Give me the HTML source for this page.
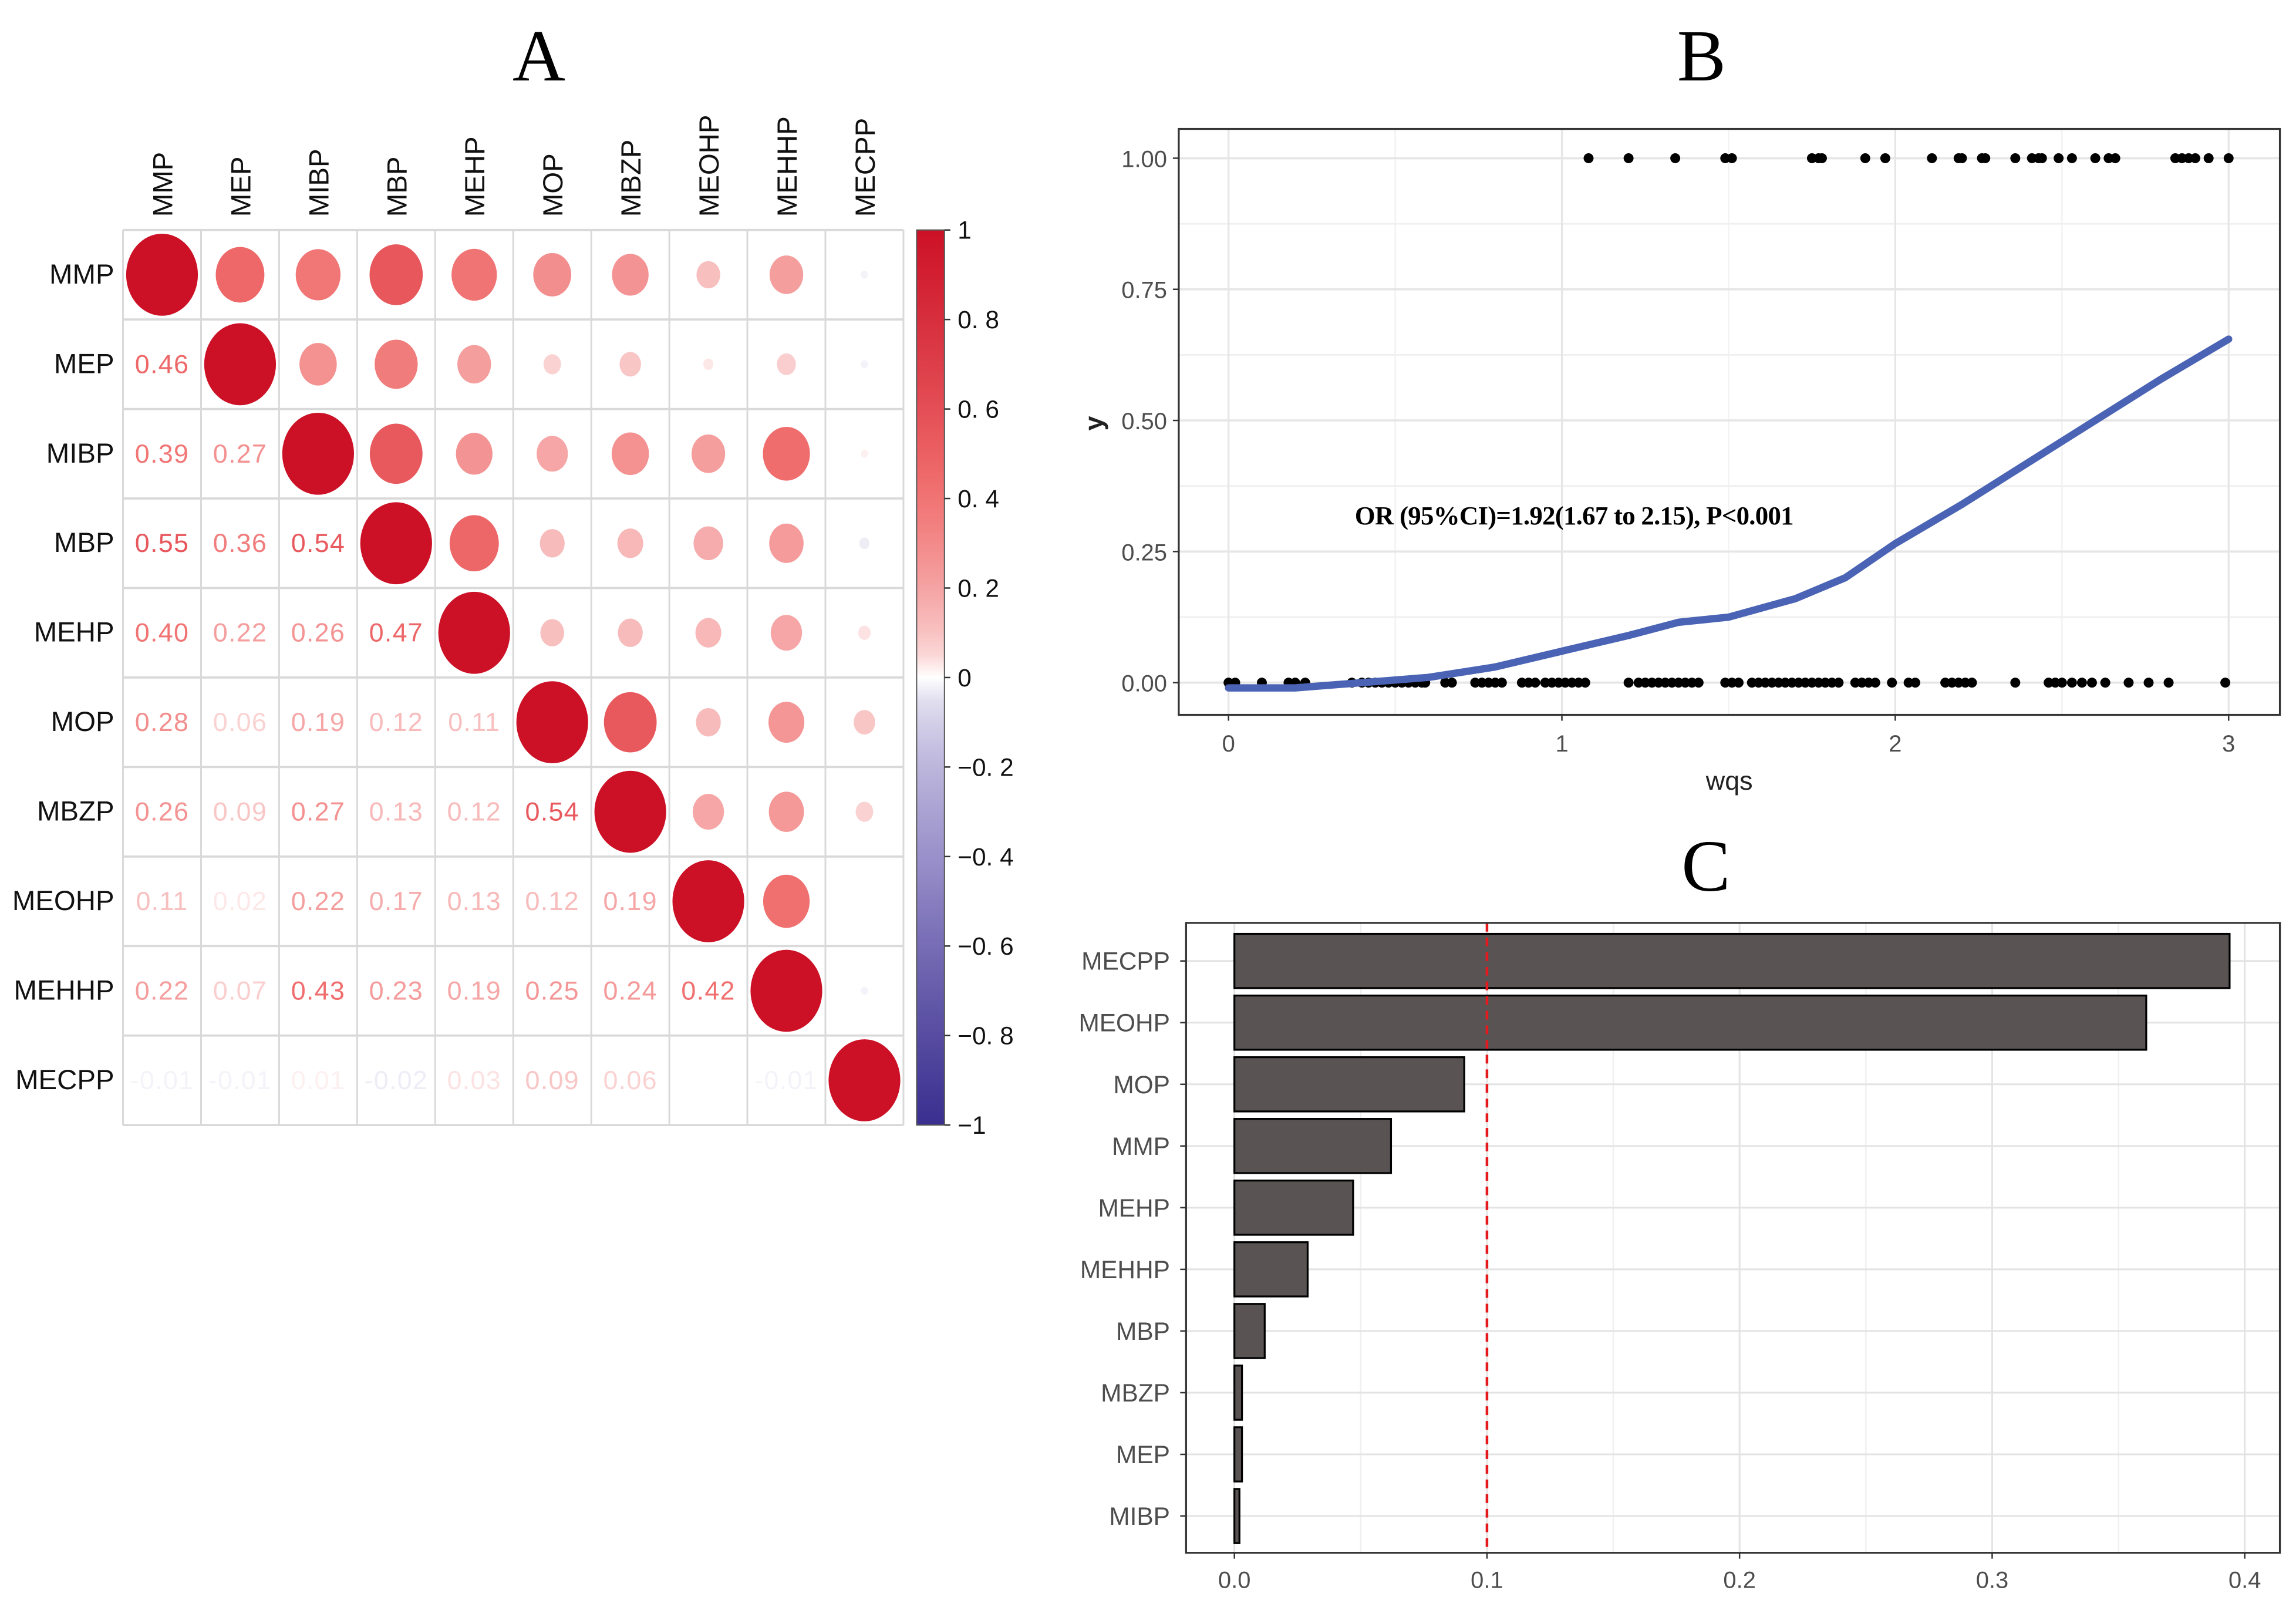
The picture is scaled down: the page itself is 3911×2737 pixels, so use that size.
<!DOCTYPE html>
<html><head><meta charset="utf-8"><style>
html,body{margin:0;padding:0;background:#fff;}
svg{display:block;}
</style></head><body>
<svg id="chart" xmlns="http://www.w3.org/2000/svg" width="3911" height="2737" viewBox="0 0 1568 1097" preserveAspectRatio="none" font-family="Liberation Sans, sans-serif">
<rect width="1568" height="1097" fill="#fff"/>
<text x="368" y="55" font-family="Liberation Serif, serif" font-size="50" text-anchor="middle">A</text>
<text x="1162" y="55" font-family="Liberation Serif, serif" font-size="50" text-anchor="middle">B</text>
<text x="1165" y="608" font-family="Liberation Serif, serif" font-size="50" text-anchor="middle">C</text>
<g id="gA"></g>
<g id="gB"></g>
<g id="gC"></g>
</svg>
<script>
const vars = ["MMP","MEP","MIBP","MBP","MEHP","MOP","MBZP","MEOHP","MEHHP","MECPP"];
const corrLower = [
 [],
 [0.46],
 [0.39,0.27],
 [0.55,0.36,0.54],
 [0.40,0.22,0.26,0.47],
 [0.28,0.06,0.19,0.12,0.11],
 [0.26,0.09,0.27,0.13,0.12,0.54],
 [0.11,0.02,0.22,0.17,0.13,0.12,0.19],
 [0.22,0.07,0.43,0.23,0.19,0.25,0.24,0.42],
 [-0.01,-0.01,0.01,-0.02,0.03,0.09,0.06,0.00,-0.01]
];
const cbTicks = [1,0.8,0.6,0.4,0.2,0,-0.2,-0.4,-0.6,-0.8,-1];
const cbLabels = ["1","0. 8","0. 6","0. 4","0. 2","0","−0. 2","−0. 4","−0. 6","−0. 8","−1"];

const yesX = [1.08,1.2,1.34,1.49,1.51,1.75,1.77,1.78,1.91,1.97,2.11,2.19,2.2,2.26,2.27,2.36,2.41,2.43,2.44,2.49,2.53,2.6,2.64,2.66,2.84,2.86,2.88,2.9,2.94,3.0];
const noX = [0.0,0.02,0.1,0.18,0.2,0.23,0.37,0.4,0.42,0.44,0.46,0.48,0.5,0.52,0.54,0.56,0.58,0.59,0.65,0.67,0.74,0.76,0.78,0.8,0.82,0.88,0.9,0.92,0.95,0.97,0.99,1.01,1.03,1.05,1.07,1.2,1.23,1.25,1.27,1.29,1.31,1.33,1.35,1.37,1.39,1.41,1.49,1.51,1.53,1.57,1.59,1.61,1.63,1.65,1.67,1.69,1.71,1.73,1.75,1.77,1.79,1.81,1.83,1.88,1.9,1.92,1.94,1.99,2.04,2.06,2.15,2.17,2.19,2.21,2.23,2.36,2.46,2.48,2.5,2.53,2.56,2.59,2.63,2.7,2.76,2.82,2.99];
const curveX = [0,0.2,0.4,0.6,0.8,1.0,1.2,1.35,1.5,1.7,1.85,2.0,2.2,2.4,2.6,2.8,3.0];
const curveY = [-0.01,-0.01,0.0,0.01,0.03,0.06,0.09,0.115,0.125,0.16,0.2,0.265,0.34,0.42,0.5,0.58,0.655];
const bXTicks = [0,1,2,3];
const bYTicks = [0,0.25,0.5,0.75,1];
const bYLabels = ["0.00","0.25","0.50","0.75","1.00"];

const weightNames = ["MECPP","MEOHP","MOP","MMP","MEHP","MEHHP","MBP","MBZP","MEP","MIBP"];
const weightVals = [0.394,0.361,0.091,0.062,0.047,0.029,0.012,0.003,0.003,0.002];
const cXTicks = [0,0.1,0.2,0.3,0.4];
const cXLabels = ["0.0","0.1","0.2","0.3","0.4"];
const threshold = 0.1;

const NS="http://www.w3.org/2000/svg";
function mk(parent,tag,attrs,text){const e=document.createElementNS(NS,tag);for(const k in attrs)e.setAttribute(k,attrs[k]);if(text!==undefined)e.textContent=text;parent.appendChild(e);return e;}
function corrColor(r){
  const t=Math.pow(Math.min(1,Math.abs(r)),0.6);
  const end = r>=0?[204,17,38]:[58,47,143];
  const mid = r>=0?[240,110,110]:[150,140,200];
  let c;
  if(t<0.6){const u=t/0.6;c=[0,1,2].map(i=>Math.round(255+(mid[i]-255)*u));}
  else{const u=(t-0.6)/0.4;c=[0,1,2].map(i=>Math.round(mid[i]+(end[i]-mid[i])*u));}
  return `rgb(${c[0]},${c[1]},${c[2]})`;
}
function corr(i,j){ if(i===j) return 1; return i>j?corrLower[i][j]:corrLower[j][i]; }

// Panel A
(function(){
  const g=document.getElementById('gA');
  const x0=84,x1=617,y0=157,y1=768,n=vars.length;
  const cw=(x1-x0)/n, ch=(y1-y0)/n;
  const cx=j=>x0+cw*(j+0.5), cy=i=>y0+ch*(i+0.5);
  for(let k=0;k<=n;k++){
    const l1=mk(g,'line',{x1:x0+cw*k,y1:y0,x2:x0+cw*k,y2:y1,stroke:'#d9d9d9','stroke-width':1.2});
    
    
    const l2=mk(g,'line',{x1:x0,y1:y0+ch*k,x2:x1,y2:y0+ch*k,stroke:'#d9d9d9','stroke-width':1.5});
    
    
  }
  vars.forEach((v,i)=>{
    const t=mk(g,'text',{x:78,y:cy(i)+6,'text-anchor':'end','font-size':19,fill:'#111'},v);
    
    
    const c=mk(g,'text',{x:0,y:0,'font-size':19,fill:'#111',transform:`translate(${cx(i)+7},148) rotate(-90)`},v);
    
    
  });
  for(let i=0;i<n;i++)for(let j=0;j<n;j++){
    const r=corr(i,j);
    if(j>=i){
      const s=Math.sqrt(Math.abs(r));
      const e=mk(g,'ellipse',{cx:cx(j),cy:cy(i),rx:24.5*s,ry:28*s,fill:corrColor(r)});
      
      
    } else {
      const txt=(r<0?'-':'')+Math.abs(r).toFixed(2);
      const t=mk(g,'text',{x:cx(j),y:cy(i)+6,'text-anchor':'middle','font-size':18,fill:corrColor(r),'letter-spacing':'0.5'},txt);
      
      
    }
  }
  const bx=626,bw=19;
  const defs=mk(g,'defs',{});
  const lg=mk(defs,'linearGradient',{id:'cbg',x1:0,y1:0,x2:0,y2:1});
  for(let k=0;k<=40;k++){const r=1-k/20;mk(lg,'stop',{offset:(k/40),'stop-color':corrColor(r)});}
  const cb=mk(g,'rect',{x:bx,y:y0,width:bw,height:y1-y0,fill:'url(#cbg)',stroke:'#555','stroke-width':0.8});
  
  
  cbTicks.forEach((v,k)=>{
    const yy=y0+(1-v)/2*(y1-y0);
    mk(g,'line',{x1:bx+bw,y1:yy,x2:bx+bw+4,y2:yy,stroke:'#333','stroke-width':1});
    const t=mk(g,'text',{x:654,y:yy+6,'font-size':17,fill:'#111'},cbLabels[k]);
    
    
  });
})();

// Panel B
(function(){
  const g=document.getElementById('gB');
  const L=805,R=1557,T=88,B=488;
  const sx=v=>839+(1522-839)*v/3, sy=v=>466-358*v;
  mk(g,'rect',{x:L,y:T,width:R-L,height:B-T,fill:'#fff'});
  [0.5,1.5,2.5].forEach(v=>mk(g,'line',{x1:sx(v),y1:T,x2:sx(v),y2:B,stroke:'#f2f2f2','stroke-width':1}));
  [0.125,0.375,0.625,0.875].forEach(v=>mk(g,'line',{x1:L,y1:sy(v),x2:R,y2:sy(v),stroke:'#f0f0f0','stroke-width':1.2}));
  bXTicks.forEach(v=>{
    mk(g,'line',{x1:sx(v),y1:T,x2:sx(v),y2:B,stroke:'#e6e6e6','stroke-width':1.3});
    mk(g,'line',{x1:sx(v),y1:B,x2:sx(v),y2:B+4,stroke:'#333'});
    const t=mk(g,'text',{x:sx(v),y:513,'text-anchor':'middle','font-size':16,fill:'#4d4d4d'},String(v));
    
    
  });
  bYTicks.forEach((v,k)=>{
    mk(g,'line',{x1:L,y1:sy(v),x2:R,y2:sy(v),stroke:'#e6e6e6','stroke-width':1.5});
    mk(g,'line',{x1:L-4,y1:sy(v),x2:L,y2:sy(v),stroke:'#333'});
    const t=mk(g,'text',{x:797,y:sy(v)+6,'text-anchor':'end','font-size':16,fill:'#4d4d4d'},bYLabels[k]);
    
    
  });
  const fr=mk(g,'rect',{x:L,y:T,width:R-L,height:B-T,fill:'none',stroke:'#333','stroke-width':1.3});
  
  
  yesX.forEach(v=>{const c=mk(g,'circle',{cx:sx(v),cy:sy(1),r:3.4,fill:'#000'});
    
    });
  noX.forEach(v=>{const c=mk(g,'circle',{cx:sx(v),cy:sy(0),r:3.4,fill:'#000'});
    
    });
  const d=curveX.map((v,k)=>(k?'L':'M')+sx(v).toFixed(1)+','+sy(curveY[k]).toFixed(1)).join(' ');
  const p=mk(g,'path',{d:d,fill:'none',stroke:'#4a63b5','stroke-width':5,'stroke-linejoin':'round','stroke-linecap':'round'});
  
  
  const a=mk(g,'text',{x:1075,y:358,'text-anchor':'middle','font-size':18,'font-weight':'bold','font-family':'Liberation Serif, serif',fill:'#000','letter-spacing':'-0.3'},'OR (95%CI)=1.92(1.67 to 2.15), P<0.001');
  
  
  const xt=mk(g,'text',{x:1181,y:539,'text-anchor':'middle','font-size':18,fill:'#222'},'wqs');
  
  
  const yt=mk(g,'text',{x:0,y:0,'text-anchor':'middle','font-size':18,'font-weight':'bold',fill:'#222',transform:'translate(753,289) rotate(-90)'},'y');
  
  
})();

// Panel C
(function(){
  const g=document.getElementById('gC');
  const L=810,R=1557,T=630,B=1060;
  const sx=v=>843+1725*v;
  const rowY=k=>656+42.1*k;
  [0.05,0.15,0.25,0.35].forEach(v=>mk(g,'line',{x1:sx(v),y1:T,x2:sx(v),y2:B,stroke:'#f0f0f0','stroke-width':1}));
  cXTicks.forEach((v,k)=>{
    mk(g,'line',{x1:sx(v),y1:T,x2:sx(v),y2:B,stroke:'#e3e3e3','stroke-width':1.2});
    mk(g,'line',{x1:sx(v),y1:B,x2:sx(v),y2:B+4,stroke:'#333'});
    const t=mk(g,'text',{x:sx(v),y:1084,'text-anchor':'middle','font-size':16,fill:'#4d4d4d'},cXLabels[k]);
    
    
  });
  weightNames.forEach((nm,k)=>{
    mk(g,'line',{x1:L,y1:rowY(k),x2:R,y2:rowY(k),stroke:'#e3e3e3','stroke-width':1.2});
    mk(g,'line',{x1:L-4,y1:rowY(k),x2:L,y2:rowY(k),stroke:'#333'});
    const t=mk(g,'text',{x:799,y:rowY(k)+6,'text-anchor':'end','font-size':17,fill:'#4d4d4d'},nm);
    
    
  });
  weightNames.forEach((nm,k)=>{
    const b=mk(g,'rect',{x:sx(0),y:rowY(k)-18.5,width:Math.max(1,sx(weightVals[k])-sx(0)),height:37,fill:'#595354',stroke:'#000','stroke-width':1.3});
    
    
  });
  const th=mk(g,'line',{x1:sx(threshold),y1:T,x2:sx(threshold),y2:B,stroke:'#e41a1c','stroke-width':1.8,'stroke-dasharray':'6,4'});
  
  
  const fr=mk(g,'rect',{x:L,y:T,width:R-L,height:B-T,fill:'none',stroke:'#333','stroke-width':1.3});
  
  
})();
</script>
</body></html>
